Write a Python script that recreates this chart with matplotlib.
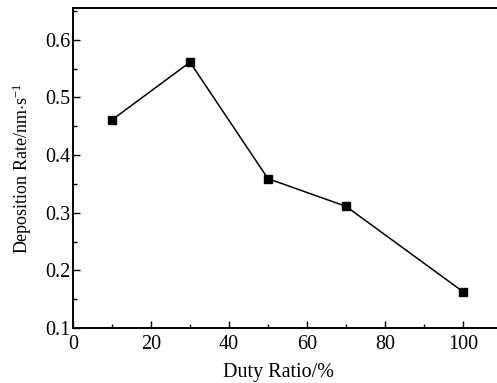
import matplotlib
matplotlib.use("Agg")
import matplotlib.pyplot as plt
from matplotlib.ticker import MultipleLocator

duty_ratio = [10, 30, 50, 70, 100]
deposition_rate = [0.461, 0.561, 0.359, 0.311, 0.163]

plt.rcParams['font.family'] = ['Liberation Serif', 'DejaVu Serif']
plt.rcParams['mathtext.fontset'] = 'custom'
plt.rcParams['mathtext.rm'] = 'Liberation Serif'
plt.rcParams['mathtext.it'] = 'Liberation Serif:italic'

W, H = 497, 383
fig = plt.figure(figsize=(W / 100, H / 100), dpi=100)
left, right, top, bottom = 73, 502, 8, 328
ax = fig.add_axes([left / W, 1 - bottom / H, (right - left) / W, (bottom - top) / H])

ax.plot(duty_ratio, deposition_rate, color='black', lw=1.1, marker='s',
        markersize=6, markerfacecolor='black', markeredgecolor='black')

ax.set_xlim(0, 110)
ax.set_ylim(0.1, 0.655)
ax.xaxis.set_major_locator(MultipleLocator(20))
ax.xaxis.set_minor_locator(MultipleLocator(10))
ax.yaxis.set_minor_locator(MultipleLocator(0.05))
ax.set_yticks([0.1, 0.2, 0.3, 0.4, 0.5, 0.6])
ax.set_yticklabels(['0.1', '0.2', '0.3', '0.4', '0.5', '0.6'])
ax.tick_params(which='both', direction='in', labelsize=14.5, width=1)
ax.tick_params(which='major', length=5)
ax.tick_params(axis='x', which='major', pad=5)
ax.tick_params(axis='y', which='major', pad=2)
ax.tick_params(which='minor', length=3)
for s in ax.spines.values():
    s.set_linewidth(1.4)

ax.set_xlabel('Duty Ratio/%', fontsize=14.5, labelpad=6)
ax.xaxis.set_label_coords(0.478, -0.108, transform=ax.transAxes)
ax.xaxis.label.set_va('top')
ax.set_ylabel(r'Deposition Rate/nm$\cdot$s$^{-1}$', fontsize=13, labelpad=8)

fig.savefig('out.png', dpi=100)
